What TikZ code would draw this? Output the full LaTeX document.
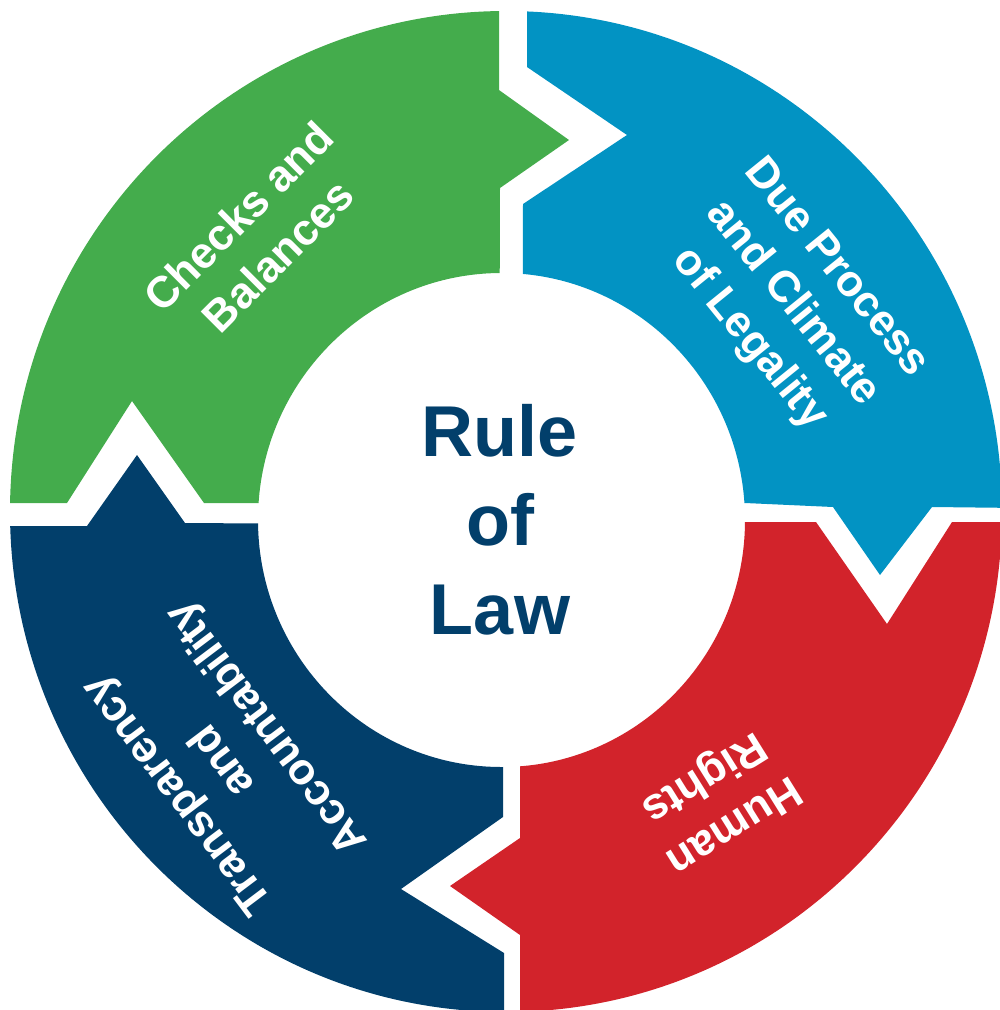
\documentclass[tikz,border=0pt]{standalone}
\usepackage{fontspec}
\setmainfont{Liberation Sans}
\definecolor{cgreen}{RGB}{68,172,76}
\definecolor{cblue}{RGB}{2,147,195}
\definecolor{cred}{RGB}{210,35,43}
\definecolor{cnavy}{RGB}{2,63,107}
\tikzset{
  lbl/.style={text=white, font=\fontsize{44}{56}\selectfont\bfseries, align=center, inner sep=0pt},
  title/.style={text=cnavy, font=\fontsize{72}{89}\selectfont\bfseries, align=center, inner sep=0pt},
  ringfill/.style={even odd rule}
}
\begin{document}
\begin{tikzpicture}[x=1pt,y=-1pt]
\useasboundingbox (0,0) rectangle (1000,1010);
% green segment
\begin{scope}
\clip (-20,503) -- (67,503) -- (132,401) -- (204,503) -- (499,503) -- (500,188) -- (569,140) -- (499,90) -- (499,-20) -- (-20,-20) -- cycle;
\fill[cgreen, ringfill] (506,511.5) ellipse [x radius=496, y radius=500.5] (501.5,520) ellipse [x radius=243.5, y radius=247];
\end{scope}
% blue segment
\begin{scope}
\clip (527,-20) -- (527,67) -- (627,135) -- (523,204) -- (522,503) -- (745,503) -- (833,507) -- (880,575) -- (932,507) -- (1020,508) -- (1020,-20) -- cycle;
\fill[cblue, ringfill] (506,511.5) ellipse [x radius=496, y radius=500.5] (501.5,520) ellipse [x radius=243.5, y radius=247];
\end{scope}
% red segment
\begin{scope}
\clip (1020,522) -- (952,522) -- (887,624) -- (816,522) -- (520,522) -- (520,838) -- (450,886) -- (520,935) -- (520,1030) -- (1020,1030) -- cycle;
\fill[cred, ringfill] (506,511.5) ellipse [x radius=496, y radius=500.5] (501.5,520) ellipse [x radius=243.5, y radius=247];
\end{scope}
% navy segment
\begin{scope}
\clip (504,1030) -- (504,953) -- (401,889) -- (503,817) -- (503,525) -- (185,523) -- (137,455) -- (87,526) -- (-20,526) -- (-20,1030) -- cycle;
\fill[cnavy, ringfill] (506,511.5) ellipse [x radius=496, y radius=500.5] (501.5,520) ellipse [x radius=243.5, y radius=247];
\end{scope}
% labels
\node[lbl, rotate=45] (checks) at (258,236) {Checks and\\Balances};
\node[lbl, rotate=-51] (due) at (792,304) {Due Process\\and Climate\\of Legality};
\node[lbl, rotate=-148] (human) at (718,800) {Human\\Rights};
\node[lbl, rotate=127] (transp) at (224,760) {Transparency\\and\\Accountability};
\node[title] (rule) at (500,520) {Rule\\of\\Law};
\end{tikzpicture}
\end{document}
